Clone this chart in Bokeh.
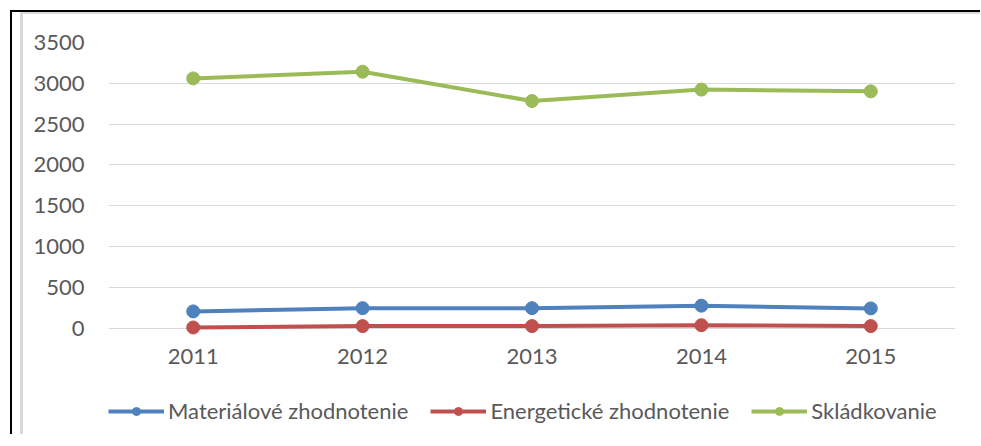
from bokeh.plotting import figure
from bokeh.layouts import column
from bokeh.models import FactorRange, Range1d, Legend, LegendItem, SingleIntervalTicker
from bokeh.embed import file_html
from bokeh.resources import INLINE

years = ["2011", "2012", "2013", "2014", "2015"]
materialove = [205, 245, 245, 275, 242]
energeticke = [8, 25, 25, 36, 25]
skladkovanie = [3060, 3142, 2783, 2923, 2902]

series_names = ["Materiálové zhodnotenie", "Energetické zhodnotenie", "Skládkovanie"]
series_values = [materialove, energeticke, skladkovanie]
series_colors = ["#4F81BD", "#C0504D", "#9BBB59"]

FONT = "Lato"
TEXT_COLOR = "#595959"

# ---- main chart ----
p = figure(
    x_range=FactorRange(*years, range_padding=0),
    y_range=Range1d(-127, 3500),
    frame_width=847, frame_height=296,
    min_border_left=96, min_border_top=30, min_border_right=25, min_border_bottom=40,
    output_backend="svg", toolbar_location=None,
    border_fill_color=None, background_fill_color="white",
)
p.outline_line_color = None

p.xgrid.grid_line_color = None
p.ygrid.grid_line_color = "#D9D9D9"
p.ygrid.grid_line_width = 1
p.yaxis.ticker = SingleIntervalTicker(interval=500)

for ax in (p.xaxis[0], p.yaxis[0]):
    ax.axis_line_color = None
    ax.major_tick_line_color = None
    ax.minor_tick_line_color = None
    ax.major_tick_out = 0
    ax.major_tick_in = 0
    ax.major_label_text_font = FONT
    ax.major_label_text_font_size = "22px"
    ax.major_label_text_color = TEXT_COLOR
p.yaxis.major_label_standoff = 20
p.xaxis.major_label_standoff = 10

for vals, col in zip(series_values, series_colors):
    p.line(years, vals, line_color=col, line_width=4)
    p.scatter(years, vals, size=13, fill_color=col, line_color=col)

# ---- legend strip (separate figure so the legend is not clipped) ----
lf = figure(
    x_range=FactorRange(*years, range_padding=0),
    y_range=Range1d(-2000, -1900),
    width=968, height=56, min_border=0,
    x_axis_type=None, y_axis_type=None,
    output_backend="svg", toolbar_location=None,
    border_fill_color=None, background_fill_color=None,
)
lf.outline_line_color = None
lf.xgrid.grid_line_color = None
lf.ygrid.grid_line_color = None

items = []
for name, vals, col in zip(series_names, series_values, series_colors):
    r1 = lf.line(years, vals, line_color=col, line_width=4)
    r2 = lf.scatter(years, vals, size=13, fill_color=col, line_color=col)
    items.append(LegendItem(label=name, renderers=[r1, r2]))

legend = Legend(
    items=items, orientation="horizontal", location=(0, 10),
    border_line_color=None, background_fill_color=None,
    padding=0, margin=0, spacing=22, label_standoff=4,
    glyph_width=56, glyph_height=20,
    label_text_font=FONT, label_text_font_size="22px", label_text_color=TEXT_COLOR,
)
lf.add_layout(legend, "center")

layout = column(p, lf, spacing=0)
layout.margin = (10, 0, 0, 10)
layout.styles = {
    "border-left": "2px solid black",
    "border-top": "2px solid black",
    "box-shadow": "inset 8px 0 0 0 white, inset 11px 2px 0 0 #d9d9d9",
}

open("out.html", "w").write(file_html(layout, INLINE))
